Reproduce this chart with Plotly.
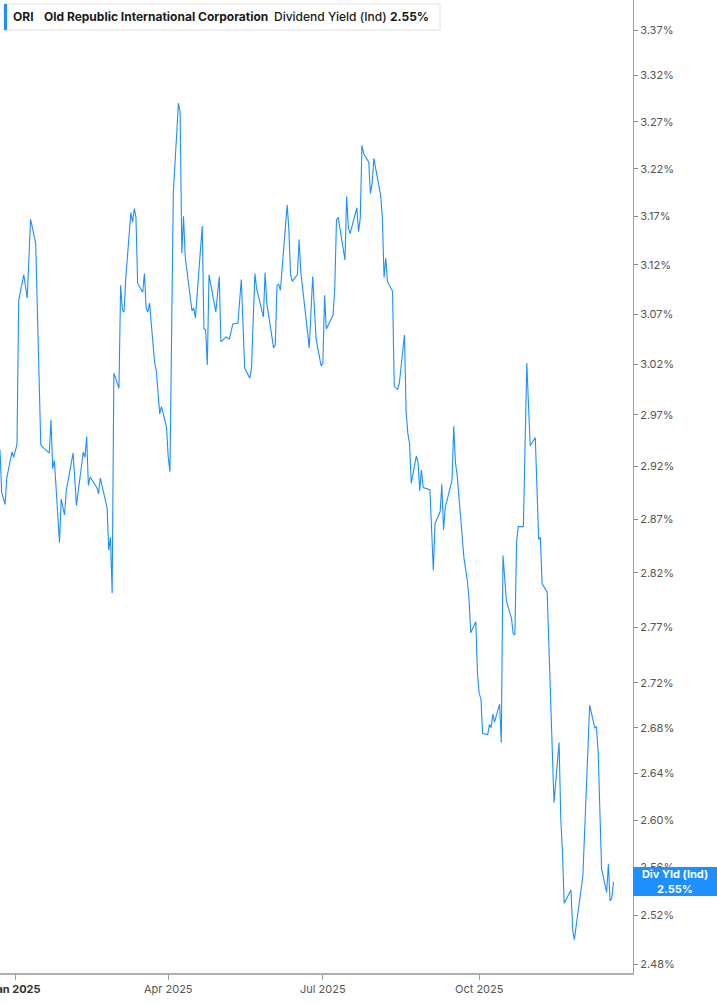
import numpy as np
import plotly.graph_objects as go

## ORI indicated dividend yield (%)
dates = [
    "2024-12-23", "2024-12-24", "2024-12-26", "2024-12-27", "2024-12-30", "2024-12-31",
    "2025-01-02", "2025-01-03", "2025-01-06", "2025-01-08", "2025-01-10", "2025-01-13",
    "2025-01-16", "2025-01-17", "2025-01-21", "2025-01-22", "2025-01-23", "2025-01-24",
    "2025-01-27", "2025-01-28", "2025-01-30", "2025-01-31", "2025-02-04", "2025-02-06",
    "2025-02-10", "2025-02-11", "2025-02-12", "2025-02-13", "2025-02-14", "2025-02-18",
    "2025-02-19", "2025-02-20", "2025-02-24", "2025-02-25", "2025-02-26", "2025-02-27",
    "2025-02-28", "2025-03-03", "2025-03-04", "2025-03-05", "2025-03-06", "2025-03-07",
    "2025-03-10", "2025-03-11", "2025-03-12", "2025-03-13", "2025-03-14", "2025-03-17",
    "2025-03-18", "2025-03-19", "2025-03-20", "2025-03-21", "2025-03-24", "2025-03-25",
    "2025-03-27", "2025-03-28", "2025-03-31", "2025-04-01", "2025-04-02", "2025-04-04",
    "2025-04-07", "2025-04-08", "2025-04-09", "2025-04-10", "2025-04-11", "2025-04-15",
    "2025-04-16", "2025-04-17", "2025-04-21", "2025-04-22", "2025-04-23", "2025-04-24",
    "2025-04-25", "2025-04-29", "2025-05-01", "2025-05-02", "2025-05-05", "2025-05-07",
    "2025-05-09", "2025-05-12", "2025-05-14", "2025-05-16", "2025-05-19", "2025-05-20",
    "2025-05-22", "2025-05-23", "2025-05-27", "2025-05-28", "2025-05-29", "2025-06-02",
    "2025-06-03", "2025-06-04", "2025-06-05", "2025-06-06", "2025-06-10", "2025-06-11",
    "2025-06-12", "2025-06-13", "2025-06-16", "2025-06-17", "2025-06-18", "2025-06-23",
    "2025-06-25", "2025-06-27", "2025-06-30", "2025-07-01", "2025-07-02", "2025-07-03",
    "2025-07-07", "2025-07-08", "2025-07-09", "2025-07-10", "2025-07-14", "2025-07-15",
    "2025-07-16", "2025-07-17", "2025-07-21", "2025-07-22", "2025-07-23", "2025-07-24",
    "2025-07-25", "2025-07-28", "2025-07-29", "2025-07-30", "2025-07-31", "2025-08-04",
    "2025-08-05", "2025-08-06", "2025-08-07", "2025-08-08", "2025-08-11", "2025-08-12",
    "2025-08-14", "2025-08-15", "2025-08-18", "2025-08-19", "2025-08-20", "2025-08-21",
    "2025-08-22", "2025-08-25", "2025-08-26", "2025-08-27", "2025-08-28", "2025-08-29",
    "2025-09-02", "2025-09-04", "2025-09-05", "2025-09-08", "2025-09-09", "2025-09-10",
    "2025-09-11", "2025-09-15", "2025-09-16", "2025-09-17", "2025-09-18", "2025-09-22",
    "2025-09-24", "2025-09-25", "2025-09-26", "2025-09-29", "2025-09-30", "2025-10-01",
    "2025-10-02", "2025-10-03", "2025-10-06", "2025-10-07", "2025-10-08", "2025-10-09",
    "2025-10-10", "2025-10-13", "2025-10-14", "2025-10-15", "2025-10-17", "2025-10-20",
    "2025-10-21", "2025-10-22", "2025-10-23", "2025-10-24", "2025-10-27", "2025-10-29",
    "2025-10-31", "2025-11-03", "2025-11-05", "2025-11-06", "2025-11-07", "2025-11-10",
    "2025-11-14", "2025-11-17", "2025-11-18", "2025-11-19", "2025-11-20", "2025-11-24",
    "2025-11-25", "2025-11-26", "2025-12-01", "2025-12-05", "2025-12-08", "2025-12-09",
    "2025-12-10", "2025-12-12", "2025-12-15", "2025-12-16", "2025-12-17", "2025-12-18",
    "2025-12-19",
]
yld = [
    2.936, 2.895, 2.884, 2.909, 2.934, 2.929,
    2.941, 3.084, 3.110, 3.086, 3.167, 3.142,
    2.941, 2.939, 2.933, 2.965, 2.918, 2.926,
    2.848, 2.889, 2.874, 2.897, 2.933, 2.883,
    2.934, 2.929, 2.949, 2.902, 2.910, 2.900,
    2.894, 2.909, 2.881, 2.841, 2.853, 2.801,
    3.011, 2.996, 3.099, 3.074, 3.072, 3.106,
    3.174, 3.164, 3.178, 3.169, 3.101, 3.092,
    3.111, 3.076, 3.072, 3.081, 3.021, 3.013,
    2.971, 2.978, 2.958, 2.929, 2.915, 3.195,
    3.290, 3.280, 3.132, 3.170, 3.128, 3.073,
    3.076, 3.066, 3.160, 3.055, 3.054, 3.019,
    3.110, 3.072, 3.108, 3.042, 3.047, 3.045,
    3.060, 3.061, 3.105, 3.016, 3.006, 3.016,
    3.111, 3.096, 3.067, 3.112, 3.081, 3.036,
    3.039, 3.099, 3.100, 3.094, 3.182, 3.156,
    3.110, 3.103, 3.110, 3.146, 3.113, 3.036,
    3.108, 3.045, 3.018, 3.021, 3.089, 3.055,
    3.069, 3.096, 3.166, 3.169, 3.125, 3.191,
    3.158, 3.152, 3.179, 3.154, 3.168, 3.245,
    3.236, 3.227, 3.194, 3.205, 3.231, 3.192,
    3.169, 3.107, 3.127, 3.103, 3.093, 2.998,
    2.995, 3.001, 3.049, 2.972, 2.952, 2.942,
    2.904, 2.930, 2.924, 2.897, 2.917, 2.900,
    2.898, 2.822, 2.866, 2.877, 2.903, 2.860,
    2.881, 2.907, 2.959, 2.924, 2.912, 2.834,
    2.813, 2.796, 2.765, 2.775, 2.728, 2.710,
    2.706, 2.675, 2.674, 2.683, 2.680, 2.692,
    2.685, 2.701, 2.667, 2.836, 2.794, 2.778,
    2.764, 2.763, 2.849, 2.863, 2.863, 3.021,
    2.940, 2.948, 2.851, 2.853, 2.810, 2.802,
    2.615, 2.667, 2.601, 2.573, 2.530, 2.541,
    2.508, 2.500, 2.553, 2.700, 2.680, 2.681,
    2.659, 2.559, 2.539, 2.563, 2.532, 2.534,
    2.548,
]

y_ticks = [2.48, 2.52, 2.56, 2.60, 2.64, 2.68, 2.72, 2.77, 2.82, 2.87,
           2.92, 2.97, 3.02, 3.07, 3.12, 3.17, 3.22, 3.27, 3.32, 3.37]
x_ticks = ["2025-01-01", "2025-04-01", "2025-07-01", "2025-10-01"]
x_labels = ["<b><span style='color:#333'>Jan 2025</span></b>", "Apr 2025", "Jul 2025", "Oct 2025"]

blue = "#1e8fff"
W, H = 717, 1005
ML, MR, MT, MB = 0, 84, 0, 32
pw, ph = W - ML - MR, H - MT - MB

def px(x):
    return x / pw

def py(y):
    return 1 - y / ph

fig = go.Figure()
fig.add_trace(go.Scatter(x=dates, y=yld, mode="lines",
                         line=dict(color=blue, width=1.1),
                         hoverinfo="skip", showlegend=False))

last = yld[-1]

fig.update_layout(
    width=W, height=H,
    margin=dict(l=ML, r=MR, t=MT, b=MB, autoexpand=False),
    paper_bgcolor="white", plot_bgcolor="white",
    font=dict(family="Inter, Roboto, sans-serif", size=11, color="#555"),
    xaxis=dict(type="date", range=["2024-12-23", "2025-12-30 12:00"],
               tickvals=x_ticks, ticktext=x_labels,
               ticks="outside", ticklen=5, tickcolor="#999",
               showline=True, linecolor="#b0b0b0", linewidth=2,
               showgrid=False, zeroline=False, ticklabeloverflow="allow",
               automargin=False,
               tickfont=dict(size=11, color="#555")),
    yaxis=dict(type="log", side="right",
               range=[np.log10(2.4727), np.log10(3.4034)],
               tickvals=y_ticks, ticktext=[f"{v:.2f}%" for v in y_ticks],
               ticks="outside", ticklen=4, tickcolor="#888",
               showline=True, linecolor="#9e9e9e", linewidth=1,
               showgrid=False, zeroline=False, automargin=False,
               tickfont=dict(size=11, color="#555")),
)

# header box
fig.add_shape(type="rect", xref="paper", yref="paper",
              x0=px(4), x1=px(440), y0=py(30), y1=py(4),
              line=dict(color="#e2e2e2", width=1), fillcolor="white", layer="above")
fig.add_shape(type="rect", xref="paper", yref="paper",
              x0=px(4), x1=px(7), y0=py(30), y1=py(4),
              line=dict(width=0), fillcolor=blue, layer="above")

header = [
    (11, "<b>ORI</b>", 700),
    (42, "<b>Old Republic International Corporation</b>", 700),
    (272, "Dividend Yield (Ind)", 500),
    (388, f"<b>{last:.2f}%</b>", 700),
]
for hx, txt, wt in header:
    fig.add_annotation(x=px(hx), y=py(17), xref="paper", yref="paper",
                       xanchor="left", yanchor="middle", text=txt, showarrow=False,
                       font=dict(family="Inter, Roboto, sans-serif", size=12,
                                 color="#1a1a1a", weight=wt))

# last value label on the axis
fig.add_annotation(x=1, y=np.log10(last), xref="paper", yref="y",
                   xanchor="left", yanchor="middle", showarrow=False,
                   text=f"<b>Div Yld (Ind)</b><br><b>{last:.2f}%</b>",
                   bgcolor=blue, width=82, height=27, borderpad=1, borderwidth=0,
                   align="center",
                   font=dict(family="Inter, Roboto, sans-serif", size=11, color="white"))

fig.write_html("out.html", config={"displayModeBar": False},
               post_script="document.body.style.margin='0';")
